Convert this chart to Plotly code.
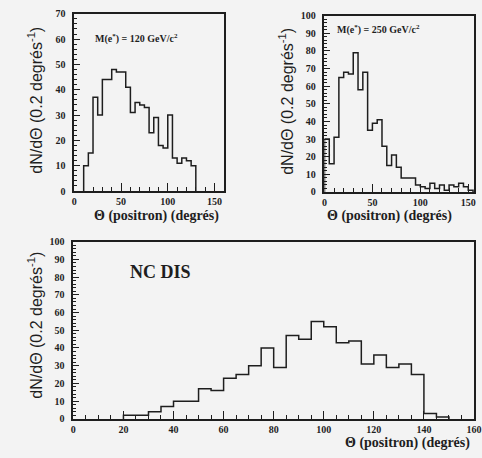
import plotly.graph_objects as go

W, H = 482, 458
BIN = 5

# M(e*) = 120 GeV/c2 : left edge of each 5 degree bin and counts
m120_theta = [10, 15, 20, 25, 30, 35, 40, 45, 50, 55, 60, 65,
              70, 75, 80, 85, 90, 95, 100, 105, 110, 115, 120, 125]
m120_counts = [10, 15, 37, 30, 44, 44, 48, 47, 47, 41, 31, 35,
               34, 33, 23, 29, 18, 17, 30, 13, 11, 13, 12, 10]

# M(e*) = 250 GeV/c2
m250_theta = [0, 5, 10, 15, 20, 25, 30, 35, 40, 45, 50, 55, 60, 65, 70, 75,
              80, 85, 90, 95, 100, 105, 110, 115, 120, 125, 130, 135, 140, 145, 150]
m250_counts = [30, 16, 31, 65, 68, 67, 79, 58, 68, 35, 39, 41, 26, 15, 21, 14,
               8, 8, 8, 4, 3, 2, 5, 2, 4, 1, 4, 3, 5, 3, 1]

# NC DIS
ncdis_theta = [20, 25, 30, 35, 40, 45, 50, 55, 60, 65, 70, 75, 80,
               85, 90, 95, 100, 105, 110, 115, 120, 125, 130, 135, 140, 145]
ncdis_counts = [2, 2, 4, 7, 10, 10, 17, 16, 23, 25, 30, 40, 29,
                47, 45, 55, 52, 43, 44, 31, 36, 29, 31, 25, 3, 1]

INK = "#1e1e1e"
SERIF = "Liberation Serif"
SANS = "Liberation Sans"


def step_xy(left, counts):
    xs = [left[0]] + list(left) + [left[-1] + BIN]
    ys = [0] + list(counts) + [0]
    return xs, ys


def px(x):
    return x / W


def py(y):
    return 1 - y / H


fig = go.Figure()
for name, theta, counts, xa, ya in [
    ("120", m120_theta, m120_counts, "x", "y"),
    ("250", m250_theta, m250_counts, "x2", "y2"),
    ("NC", ncdis_theta, ncdis_counts, "x3", "y3"),
]:
    xs, ys = step_xy(theta, counts)
    fig.add_trace(go.Scatter(x=xs, y=ys, mode="lines", line_shape="hv",
                             line=dict(color=INK, width=1.5),
                             xaxis=xa, yaxis=ya, name=name, hoverinfo="skip"))

tickfont = dict(family=SERIF, size=10, color=INK, weight="bold")
axis_common = dict(showline=True, linecolor=INK, linewidth=1.5, mirror=True,
                   ticks="inside", tickcolor=INK, tickwidth=1.2, showgrid=False,
                   zeroline=False, tickfont=tickfont, fixedrange=True,
                   ticklabeloverflow="allow", tickmode="linear", tick0=0)


def minor(step, length):
    return dict(dtick=step, tick0=0, ticklen=length, ticks="inside",
                tickcolor=INK, tickwidth=1.2, showgrid=False)


fig.update_layout(
    width=W, height=H,
    margin=dict(l=0, r=0, t=0, b=0),
    paper_bgcolor="#f3f3f3", plot_bgcolor="#f3f3f3",
    showlegend=False,
    xaxis=dict(axis_common, domain=[px(73), px(226)], range=[0, 160], anchor="y",
               dtick=50, ticklen=8, minor=minor(10, 4)),
    yaxis=dict(axis_common, domain=[py(190), py(8)], range=[0, 70], anchor="x",
               dtick=10, ticklen=6, ticklabelstandoff=5, minor=minor(2, 3)),
    xaxis2=dict(axis_common, domain=[px(329), 1.0], range=[0, 156], anchor="y2",
                dtick=50, ticklen=8, minor=minor(10, 4)),
    yaxis2=dict(axis_common, domain=[py(191), py(10)], range=[0, 100], anchor="x2",
                dtick=10, ticklen=6, ticklabelstandoff=5, minor=minor(2, 3)),
    xaxis3=dict(axis_common, domain=[px(72), 1.0], range=[0, 160], anchor="y3",
                dtick=20, ticklen=8, minor=minor(5, 4)),
    yaxis3=dict(axis_common, domain=[py(424), py(242)], range=[0, 100], anchor="x3",
                dtick=10, ticklen=6, ticklabelstandoff=5, minor=minor(2, 3)),
)

xtitle = "Θ (positron) (degrés)"
ytitle = "dN/dΘ (0.2 degrés<sup>-1</sup>)"
title_font = dict(family=SERIF, size=14, color=INK, weight="bold")
ytitle_font = dict(family=SANS, size=16, color=INK)

annotations = [
    dict(text=xtitle, x=px(157), y=py(216), font=title_font),
    dict(text=xtitle, x=px(396), y=py(216), font=title_font),
    dict(text=xtitle, x=px(480), y=py(449), xanchor="right", font=title_font),
    dict(text=ytitle, x=px(33), y=py(97), textangle=-90, font=ytitle_font),
    dict(text=ytitle, x=px(290), y=py(98), textangle=-90, font=ytitle_font),
    dict(text=ytitle, x=px(33), y=py(328), textangle=-90, font=ytitle_font),
    dict(text="M(e<sup>*</sup>) = 120 GeV/c<sup>2</sup>", x=px(92), y=py(33),
         xanchor="left", font=dict(family=SERIF, size=10, color=INK, weight="bold")),
    dict(text="M(e<sup>*</sup>) = 250 GeV/c<sup>2</sup>", x=px(340), y=py(24),
         xanchor="left", font=dict(family=SERIF, size=10, color=INK, weight="bold")),
    dict(text="NC DIS", x=px(128), y=py(273), xanchor="left",
         font=dict(family=SERIF, size=18, color=INK, weight="bold")),
]
for a in annotations:
    a.setdefault("xanchor", "center")
    a.update(xref="paper", yref="paper", showarrow=False, yanchor="middle")
    fig.add_annotation(**a)

# drop the browser's default page margin so the figure fills the window
fig.write_html("out.html", config={"displayModeBar": False},
               post_script="document.body.style.margin = '0';")
